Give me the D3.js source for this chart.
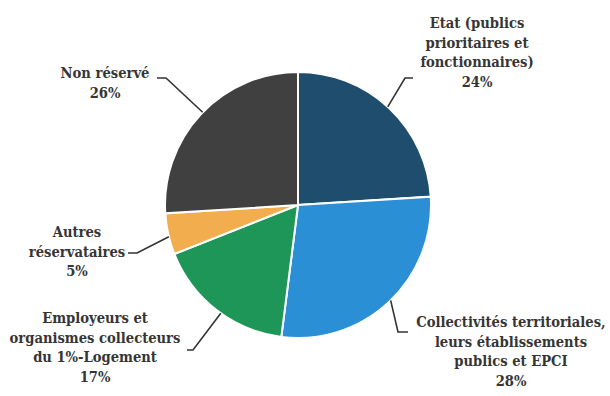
<!DOCTYPE html>
<html>
<head>
<meta charset="utf-8">
<script src="https://cdn.jsdelivr.net/npm/d3@7"></script>
<style>
  html, body { margin: 0; padding: 0; background: #ffffff; }
  svg text { font-family: "DejaVu Serif Condensed", "DejaVu Serif", serif; font-stretch: condensed; font-weight: bold; fill: #353535; }
</style>
</head>
<body>
<svg id="chart" width="610" height="396"></svg>
<script>
// Répartition des logements sociaux par réservataire (%)
const categories = [
  "Etat (publics prioritaires et fonctionnaires)",
  "Collectivités territoriales, leurs établissements publics et EPCI",
  "Employeurs et organismes collecteurs du 1%-Logement",
  "Autres réservataires",
  "Non réservé"
];
const values = [24, 28, 17, 5, 26];
const colors = ["#1e4d6e", "#2a8fd4", "#1e9658", "#f2ad4e", "#404040"];
// Label lines as they are set on the page
const labelLines = [
  ["Etat (publics", "prioritaires et", "fonctionnaires)", "24%"],
  ["Collectivités territoriales,", "leurs établissements", "publics et EPCI", "28%"],
  ["Employeurs et", "organismes collecteurs", "du 1%-Logement", "17%"],
  ["Autres", "réservataires", "5%"],
  ["Non réservé", "26%"]
];

const svg = d3.select("#chart");
const cx = 298, cy = 205, r = 133;

const pie = d3.pie().sort(null).value(d => d.value);
const arc = d3.arc().innerRadius(0).outerRadius(r);
const data = pie(categories.map((c, i) => ({ name: c, value: values[i], color: colors[i] })));

const g = svg.append("g").attr("transform", `translate(${cx},${cy})`);
g.selectAll("path")
  .data(data)
  .join("path")
  .attr("d", arc)
  .attr("fill", d => d.data.color)
  .attr("stroke", "#ffffff")
  .attr("stroke-width", 2);

// Label placement: text block centre, first baseline, leader elbow and rim angle
const layout = [
  { x: 477, y: 28, elbow: [[413, 78], [405, 78]], rimAngle: -0.83 },
  { x: 511, y: 327, elbow: [[408, 332], [398, 332]], rimAngle: 0.80 },
  { x: 95, y: 323, elbow: [[187, 350], [193, 350]], rimAngle: 2.19 },
  { x: 77, y: 237, elbow: [[128, 253], [137, 253]], rimAngle: 2.90 },
  { x: 105, y: 78, elbow: [[157, 78], [166, 78]], rimAngle: -2.37 }
];
const lineH = 19.5;

data.forEach((d, i) => {
  const L = layout[i];
  const rim = [cx + r * Math.cos(L.rimAngle), cy + r * Math.sin(L.rimAngle)];
  svg.append("path")
    .attr("d", d3.line()([L.elbow[0], L.elbow[1], rim]))
    .attr("fill", "none")
    .attr("stroke", "#333333")
    .attr("stroke-width", 1.6);

  const t = svg.append("text")
    .attr("text-anchor", "middle")
    .attr("font-size", 14.6);
  labelLines[i].forEach((line, k) => {
    t.append("tspan")
      .attr("x", L.x)
      .attr("y", L.y + k * lineH)
      .text(line);
  });
});
</script>
</body>
</html>
